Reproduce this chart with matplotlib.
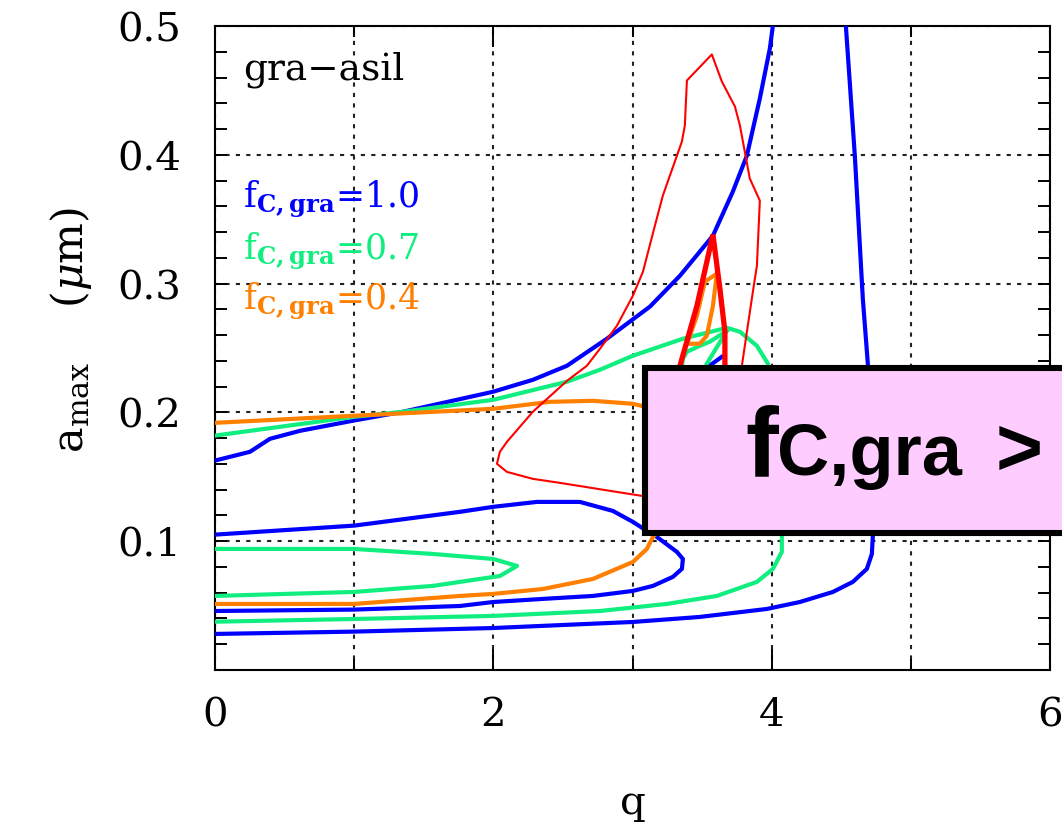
import matplotlib
matplotlib.use("Agg")
import matplotlib.pyplot as plt
from matplotlib.ticker import MultipleLocator, FormatStrFormatter
from matplotlib.patches import Rectangle

plt.rcParams["font.family"] = "DejaVu Serif"
plt.rcParams["mathtext.fontset"] = "dejavuserif"

BLUE, GREEN, ORANGE, RED = "#0000FF", "#10EE80", "#FF8000", "#FF0000"

# f_C,gra = 1.0 (blue) contours
blue_upper_q = [0, 0.251, 0.395, 0.611, 0.999, 1.351, 1.997, 2.284, 2.529, 2.816, 3.125, 3.341, 3.578, 3.721, 3.822, 3.915, 3.987, 4.009]
blue_upper_a = [0.1626, 0.1694, 0.1795, 0.1857, 0.1937, 0.2005, 0.2160, 0.2253, 0.2362, 0.2572, 0.2821, 0.3061, 0.3372, 0.3714, 0.3994, 0.4437, 0.4825, 0.5004]
blue_outer_q = [0, 1.0, 2.0, 3.003, 3.484, 3.966, 4.203, 4.440, 4.583, 4.684, 4.720, 4.727, 4.691, 4.655, 4.598, 4.533]
blue_outer_a = [0.0280, 0.0298, 0.0326, 0.0373, 0.0412, 0.0474, 0.0528, 0.0606, 0.0684, 0.0785, 0.0901, 0.1041, 0.2378, 0.2883, 0.3986, 0.5004]
blue_loop_q = [0, 1.0, 1.76, 2.0, 2.313, 2.622, 2.859, 3.003, 3.103, 3.175, 3.319, 3.362, 3.355, 3.290, 3.147, 3.003, 2.716, 2.356, 2.0, 1.76, 1.0, 0]
blue_loop_a = [0.1051, 0.1121, 0.1228, 0.1267, 0.1305, 0.1305, 0.1235, 0.1150, 0.1080, 0.1033, 0.0917, 0.0862, 0.0785, 0.0723, 0.0653, 0.0614, 0.0575, 0.0552, 0.0528, 0.0497, 0.0469, 0.0458]
blue_bit_q = [3.55, 3.64]
blue_bit_a = [0.236, 0.243]

# f_C,gra = 0.7 (green) contours
green_main_q = [0, 1.0, 1.351, 2.0, 2.529, 2.766, 3.003, 3.362, 3.678, 3.772, 3.894, 3.973, 4.06, 4.073, 4.073, 4.009, 3.894, 3.606, 3.247, 2.766, 2.0, 1.0, 0]
green_main_a = [0.1820, 0.1966, 0.2005, 0.2098, 0.2238, 0.2331, 0.2440, 0.2572, 0.2657, 0.2626, 0.2517, 0.2378, 0.17, 0.1041, 0.0917, 0.0785, 0.0684, 0.0575, 0.0513, 0.0458, 0.0420, 0.0396, 0.0375]
green_in1_q = [3.678, 3.556, 3.484, 3.391, 3.362, 3.355]
green_in1_a = [0.2634, 0.2549, 0.2517, 0.2471, 0.2416, 0.2362]
green_in2_q = [3.678, 3.534]
green_in2_a = [0.2634, 0.2378]
green_loop_q = [0, 1.0, 1.566, 2.0, 2.170, 2.047, 1.566, 1.0, 0]
green_loop_a = [0.0940, 0.0940, 0.0901, 0.0862, 0.0808, 0.0730, 0.0653, 0.0606, 0.0575]

# f_C,gra = 0.4 (orange) contours
orange_main_q = [0, 1.0, 2.0, 2.407, 2.716, 3.003, 3.09, 3.3, 3.35, 3.25, 3.147, 3.103, 3.003, 2.716, 2.356, 2.0, 1.76, 1.0, 0]
orange_main_a = [0.1919, 0.1974, 0.2028, 0.2082, 0.2090, 0.2067, 0.2044, 0.19, 0.15, 0.115, 0.1033, 0.0940, 0.0839, 0.0707, 0.0629, 0.0591, 0.0575, 0.0513, 0.0513]
orange_loop_q = [3.391, 3.484, 3.534, 3.578, 3.606, 3.520, 3.463, 3.398, 3.391]
orange_loop_a = [0.2533, 0.2533, 0.2595, 0.2828, 0.3077, 0.3015, 0.2751, 0.2549, 0.2533]

# observed constraint (red)
red_wide_q = [3.70, 3.786, 3.822, 3.865, 3.894, 3.915, 3.843, 3.772, 3.736, 3.642, 3.570, 3.391, 3.376, 3.355, 3.218, 3.161, 3.075, 3.003, 2.888, 2.766, 2.672, 2.529, 2.284, 2.098, 2.047, 2.026, 2.098, 2.284, 2.478, 2.838, 3.067, 3.4, 3.70]
red_wide_a = [0.15, 0.2362, 0.2626, 0.2937, 0.3139, 0.3644, 0.3815, 0.4227, 0.4375, 0.4569, 0.4779, 0.4577, 0.4227, 0.4103, 0.3683, 0.3450, 0.3092, 0.2906, 0.2673, 0.2494, 0.2362, 0.2245, 0.2005, 0.1772, 0.1694, 0.1601, 0.1538, 0.1484, 0.1453, 0.1391, 0.1352, 0.13, 0.15]
red_spike_q = [3.341, 3.463, 3.578, 3.628, 3.664, 3.664]
red_spike_a = [0.2362, 0.2828, 0.3380, 0.2960, 0.2626, 0.2362]

labels = ["1.0", "0.7", "0.4"]

fig = plt.figure(figsize=(10.62, 8.28), dpi=100)
ax = fig.add_axes([215 / 1062, 1 - 671 / 828, 835 / 1062, 644 / 828])

lw = 3.0
for q, a in [(blue_upper_q, blue_upper_a), (blue_outer_q, blue_outer_a),
             (blue_loop_q, blue_loop_a), (blue_bit_q, blue_bit_a)]:
    ax.plot(q, a, color=BLUE, lw=lw, solid_joinstyle="round", zorder=3)
for q, a in [(green_main_q, green_main_a), (green_in1_q, green_in1_a),
             (green_in2_q, green_in2_a), (green_loop_q, green_loop_a)]:
    ax.plot(q, a, color=GREEN, lw=lw, solid_joinstyle="round", zorder=3)
for q, a in [(orange_main_q, orange_main_a), (orange_loop_q, orange_loop_a)]:
    ax.plot(q, a, color=ORANGE, lw=lw, solid_joinstyle="round", zorder=3)
ax.plot(red_wide_q, red_wide_a, color=RED, lw=1.5, zorder=4)
ax.plot(red_spike_q, red_spike_a, color=RED, lw=3.8, solid_joinstyle="miter", zorder=4)

ax.set_xlim(0, 6)
ax.set_ylim(0, 0.5)
ax.set_xticks([0, 2, 4, 6])
ax.set_xticks([1, 3, 5], minor=True)
ax.set_yticks([0.1, 0.2, 0.3, 0.4, 0.5])
ax.yaxis.set_minor_locator(MultipleLocator(0.02))
ax.yaxis.set_major_formatter(FormatStrFormatter("%.1f"))
ax.tick_params(which="both", direction="in", top=True, right=True, width=1.4,
               labelsize=29)
ax.xaxis.set_tick_params(which="major", length=15, pad=19)
ax.xaxis.set_tick_params(which="minor", length=8)
ax.yaxis.set_tick_params(which="both", length=8.5)
ax.yaxis.set_tick_params(which="major", pad=24)
for s in ax.spines.values():
    s.set_linewidth(1.5)

grid_style = dict(color="#222222", lw=1.5, linestyle=(0, (2, 3)))
ax.grid(True, which="both", axis="x", **grid_style)
ax.grid(True, which="major", axis="y", **grid_style)
ax.set_axisbelow(True)

ax.set_xlabel("q", fontsize=29)
ax.xaxis.set_label_coords(0.5, -0.222)
ax.xaxis.label.set_va("baseline")
ax.set_ylabel(r"a$_{\mathrm{max}}$    ($\mu$m)", fontsize=31)
ax.yaxis.set_label_coords(-0.172, 0.53)
ax.yaxis.label.set_va("center")

ax.text(0.201, 0.4592, "gra\u2212asil", fontsize=27, va="baseline")
for lab, col, y in zip(labels, [BLUE, GREEN, ORANGE], [0.3598, 0.3193, 0.2805]):
    ax.text(0.201, y, r"f$_{\mathbf{C,gra}}$=" + lab, color=col, fontsize=25, va="baseline")

# overlay box
fig.add_artist(Rectangle((645 / 1062, 1 - 534 / 828), 0.45, 165 / 828,
                         transform=fig.transFigure, facecolor="#FFCCFF",
                         edgecolor="black", lw=4.4, zorder=5))
fig.text(745 / 1062, 1 - 475 / 828, "f", fontsize=71, fontweight="bold",
         family="Liberation Sans", va="baseline", zorder=6)
fig.text(777 / 1062, 1 - 475 / 828, "C,gra", fontsize=52, fontweight="bold",
         family="Liberation Sans", va="baseline", zorder=6)
fig.text(996 / 1062, 1 - 475 / 828, ">", fontsize=58, fontweight="bold",
         family="Liberation Sans", va="baseline", zorder=6)

fig.savefig("out.png", dpi=100)
